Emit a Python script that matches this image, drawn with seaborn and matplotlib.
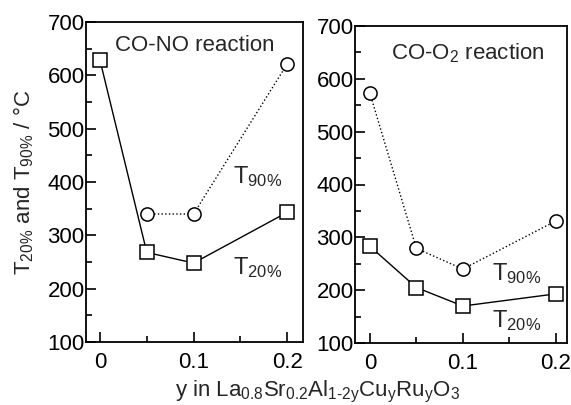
import matplotlib
matplotlib.use("Agg")
import matplotlib.pyplot as plt
import seaborn as sns
from matplotlib.ticker import MultipleLocator

# Data
y_comp = [0, 0.05, 0.1, 0.2]
no_t20 = [628, 268, 248, 343]
no_t90_x = [0.05, 0.1, 0.2]
no_t90 = [340, 340, 621]
o2_t20 = [283, 205, 170, 193]
o2_t90 = [573, 279, 240, 331]
x_ticks = [0, 0.1, 0.2]
x_ticklabels = ["0", "0.1", "0.2"]

sns.set_style("ticks")
plt.rcParams['font.family'] = ['Liberation Sans', 'DejaVu Sans']
plt.rcParams['mathtext.fontset'] = 'custom'
plt.rcParams['mathtext.rm'] = 'Liberation Sans'
plt.rcParams['mathtext.it'] = 'Liberation Sans'
plt.rcParams['mathtext.default'] = 'regular'

fig = plt.figure(figsize=(5.71, 4.05), dpi=100)
ax1 = fig.add_axes([86 / 571, 1 - 342 / 405, 217 / 571, 320 / 405])
ax2 = fig.add_axes([355 / 571, 1 - 343 / 405, 212 / 571, 317 / 405])

sq = dict(marker='s', markersize=9.5, markerfacecolor='white',
          markeredgecolor='black', markeredgewidth=1.1)
ci = dict(marker='o', markersize=9.5, markerfacecolor='white',
          markeredgecolor='black', markeredgewidth=1.1)

sns.lineplot(x=y_comp, y=no_t20, ax=ax1, color='black', lw=1, **sq)
sns.lineplot(x=no_t90_x, y=no_t90, ax=ax1, color='black', lw=1, ls=':', **ci)
sns.lineplot(x=y_comp, y=o2_t90, ax=ax2, color='black', lw=1, ls=':', **ci)
sns.lineplot(x=y_comp, y=o2_t20, ax=ax2, color='black', lw=1, **sq)

ax1.set_xlim(-0.015, 0.217)
ax2.set_xlim(-0.016, 0.212)
for ax in (ax1, ax2):
    ax.set_ylim(100, 700)
    ax.set_xticks(x_ticks)
    ax.set_xticklabels(x_ticklabels)
    ax.xaxis.set_minor_locator(MultipleLocator(0.05))
    ax.yaxis.set_major_locator(MultipleLocator(100))
    ax.yaxis.set_minor_locator(MultipleLocator(50))
    ax.tick_params(which='both', direction='in', labelsize=16, width=1.2,
                   top=False, right=False, colors='black')
    ax.tick_params(which='major', length=7)
    ax.tick_params(which='minor', length=4)
    ax.tick_params(axis='x', pad=7)
    ax.tick_params(axis='y', pad=1)
    for s in ax.spines.values():
        s.set_linewidth(1.3)
        s.set_color('black')

ax1.text(0.5, 0.96, "CO-NO reaction", transform=ax1.transAxes,
         ha='center', va='top', fontsize=16)
ax2.text(0.53, 0.95, "CO-O$_2$ reaction", transform=ax2.transAxes,
         ha='center', va='top', fontsize=16)
ax1.text(0.142, 410, "T$_{90\\%}$", fontsize=17, va='center')
ax1.text(0.142, 240, "T$_{20\\%}$", fontsize=17, va='center')
ax2.text(0.131, 232, "T$_{90\\%}$", fontsize=17, va='center')
ax2.text(0.131, 143, "T$_{20\\%}$", fontsize=17, va='center')

ax1.set_ylabel("T$_{20\\%}$ and T$_{90\\%}$ / °C", fontsize=16, labelpad=8)
fig.text(318 / 571, 1 - 392 / 405,
         "y in La$_{0.8}$Sr$_{0.2}$Al$_{1\\text{-}2y}$Cu$_y$Ru$_y$O$_3$",
         ha='center', va='center', fontsize=16)

fig.savefig("out.png", dpi=100)
